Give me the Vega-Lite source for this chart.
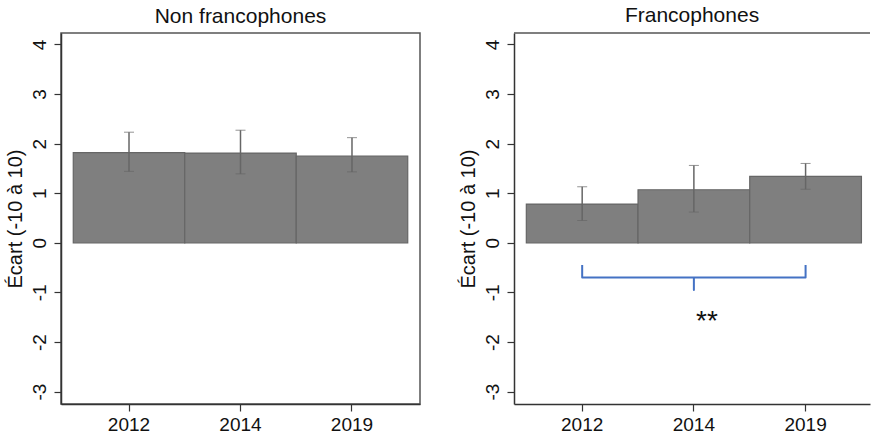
{
  "$schema": "https://vega.github.io/schema/vega-lite/v6.json",
  "background": "white",
  "padding": {"left": 4, "top": 5, "right": 0, "bottom": 0},
  "datasets": {
    "nonfr": [
      {"year": "2012", "value": 1.82, "lo": 1.44, "hi": 2.23},
      {"year": "2014", "value": 1.81, "lo": 1.39, "hi": 2.27},
      {"year": "2019", "value": 1.75, "lo": 1.43, "hi": 2.12}
    ],
    "fr": [
      {"year": "2012", "value": 0.78, "lo": 0.45, "hi": 1.13},
      {"year": "2014", "value": 1.07, "lo": 0.62, "hi": 1.56},
      {"year": "2019", "value": 1.34, "lo": 1.08, "hi": 1.6}
    ],
    "bracket": [
      {"seq": 1, "year": "2012", "y": -0.45},
      {"seq": 2, "year": "2012", "y": -0.7},
      {"seq": 3, "year": "2014", "y": -0.7},
      {"seq": 4, "year": "2014", "y": -0.95},
      {"seq": 5, "year": "2014", "y": -0.7},
      {"seq": 6, "year": "2019", "y": -0.7},
      {"seq": 7, "year": "2019", "y": -0.45}
    ],
    "signif": [
      {"year": "2014", "y": -1.6, "label": "**"}
    ]
  },
  "config": {
    "font": "Liberation Sans",
    "view": {"stroke": "#555555", "strokeWidth": 1.5},
    "axis": {
      "grid": false,
      "domainColor": "#333333",
      "domainWidth": 1.5,
      "tickColor": "#333333",
      "tickWidth": 1.2,
      "tickSize": 7,
      "labelFont": "Liberation Sans",
      "labelFontSize": 19,
      "labelColor": "#111111",
      "titleFont": "Liberation Sans",
      "titleFontSize": 20,
      "titleFontWeight": "normal",
      "titleColor": "#111111"
    },
    "axisY": {"labelAngle": -90, "labelAlign": "center", "labelBaseline": "bottom", "labelPadding": 5, "titlePadding": 5},
    "axisX": {"labelAngle": 0, "labelPadding": 4},
    "title": {"font": "Liberation Sans", "fontSize": 21, "fontWeight": "normal", "color": "#111111", "anchor": "middle", "offset": 6},
    "concat": {"spacing": 37}
  },
  "hconcat": [
    {
      "width": 359,
      "height": 371,
      "title": "Non francophones",
      "data": {"name": "nonfr"},
      "layer": [
        {
          "mark": {"type": "bar", "fill": "#7f7f7f", "stroke": "#666666", "strokeWidth": 1.2},
          "encoding": {
            "x": {"field": "year", "type": "ordinal", "title": null,
                  "scale": {"paddingInner": 0, "paddingOuter": 0.11}},
            "y": {"field": "value", "type": "quantitative", "title": "Écart (-10 à 10)",
                  "scale": {"domain": [-3.25, 4.23], "nice": false, "zero": false},
                  "axis": {"values": [-3, -2, -1, 0, 1, 2, 3, 4], "labelExpr": "toString(datum.value)", "labelAngle": -90, "labelAlign": "center", "labelBaseline": "bottom"}}
          }
        },
        {
          "mark": {"type": "errorbar", "ticks": {"size": 10, "color": "#666666", "strokeWidth": 1.5}, "rule": {"color": "#666666", "strokeWidth": 1.5}},
          "encoding": {
            "x": {"field": "year", "type": "ordinal", "title": null},
            "y": {"field": "lo", "type": "quantitative", "title": "Écart (-10 à 10)"},
            "y2": {"field": "hi"}
          }
        }
      ]
    },
    {
      "width": 356,
      "height": 371,
      "title": "Francophones",
      "view": {"stroke": null},
      "layer": [
        {
          "data": {"name": "fr"},
          "mark": {"type": "bar", "fill": "#7f7f7f", "stroke": "#666666", "strokeWidth": 1.2},
          "encoding": {
            "x": {"field": "year", "type": "ordinal", "title": null,
                  "scale": {"paddingInner": 0, "paddingOuter": 0.0935, "align": 0.59}},
            "y": {"field": "value", "type": "quantitative", "title": "Écart (-10 à 10)",
                  "scale": {"domain": [-3.25, 4.23], "nice": false, "zero": false},
                  "axis": {"values": [-3, -2, -1, 0, 1, 2, 3, 4], "labelExpr": "toString(datum.value)", "labelAngle": -90, "labelAlign": "center", "labelBaseline": "bottom"}}
          }
        },
        {
          "data": {"name": "fr"},
          "mark": {"type": "errorbar", "ticks": {"size": 10, "color": "#666666", "strokeWidth": 1.5}, "rule": {"color": "#666666", "strokeWidth": 1.5}},
          "encoding": {
            "x": {"field": "year", "type": "ordinal", "title": null},
            "y": {"field": "lo", "type": "quantitative", "title": "Écart (-10 à 10)"},
            "y2": {"field": "hi"}
          }
        },
        {
          "data": {"name": "bracket"},
          "mark": {"type": "line", "color": "#4472c4", "strokeWidth": 2, "strokeJoin": "round"},
          "encoding": {
            "x": {"field": "year", "type": "ordinal", "title": null},
            "y": {"field": "y", "type": "quantitative", "title": "Écart (-10 à 10)"},
            "order": {"field": "seq", "type": "quantitative"}
          }
        },
        {
          "data": {"name": "signif"},
          "mark": {"type": "text", "fontSize": 28, "color": "#111111", "dx": 13, "baseline": "middle"},
          "encoding": {
            "x": {"field": "year", "type": "ordinal", "title": null},
            "y": {"field": "y", "type": "quantitative", "title": "Écart (-10 à 10)"},
            "text": {"field": "label"}
          }
        },
        {
          "data": {"values": [{}]},
          "mark": {"type": "rule", "color": "#555555", "strokeWidth": 1.5},
          "encoding": {"y": {"datum": 4.23, "title": "Écart (-10 à 10)"}}
        }
      ]
    }
  ]
}
